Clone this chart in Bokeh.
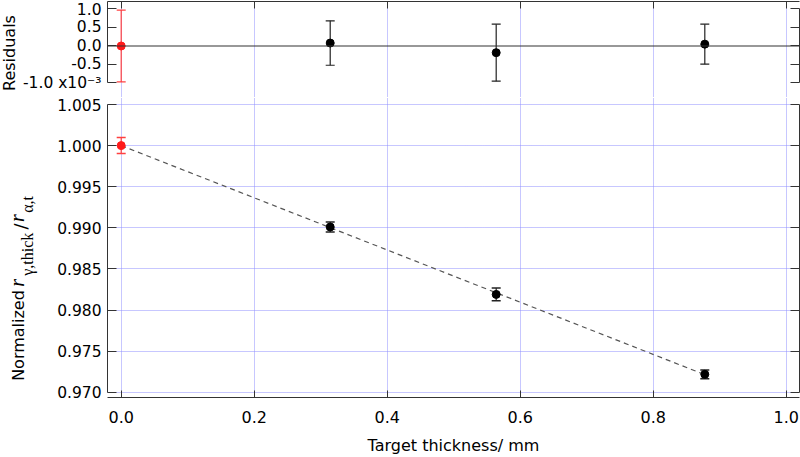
import math
from bokeh.plotting import figure
from bokeh.models import (Range1d, LinearAxis, FixedTicker, NumeralTickFormatter,
                          Whisker, TeeHead, ColumnDataSource, Span, Label)
from bokeh.layouts import column, row
from bokeh.embed import file_html
from bokeh.resources import INLINE

# ---------------- data ----------------
thickness = [0.0, 0.3143, 0.5639, 0.8776]          # mm
norm_ratio = [1.0000, 0.99010, 0.98190, 0.97218]    # normalized r_gamma,thick / r_alpha,t
errors_e3 = [0.97, 0.60, 0.77, 0.54]                # uncertainties (x1e-3)
residuals_e3 = [0.0, 0.08, -0.18, 0.05]             # residuals (x1e-3)
fit_x = [0.0, 0.8776]
fit_y = [1.0000, 0.97214]
x_ticks = [0.0, 0.2, 0.4, 0.6, 0.8, 1.0]
res_ticks = [-1.0, -0.5, 0.0, 0.5, 1.0]
norm_ticks = [0.970, 0.975, 0.980, 0.985, 0.990, 0.995, 1.000, 1.005]
point_colors = ["#ff1a1a", "black", "black", "black"]
bar_colors = ["#ff4040", "#222222", "#222222", "#222222"]

# ---------------- layout constants ----------------
TOP_ROW_H, BOT_ROW_H = 97, 360
TOP_BT = 1            # top border of the residual row
BOT_BB = 60           # bottom border of the main row
RES_LBL_W, Y_LBL_W = 18, 46
FRAME_LEFT = 107
X_LO, X_HI = -0.0206, 1.0200
RES_LO, RES_HI = -1.392, 1.2027
N_LO, N_HI = 0.96936, 1.00585

FONT = "DejaVu Sans"
SERIF = "Liberation Serif"
AX_COL = "#333333"
GRID_COL = "#8f8fff"


def style_axis(ax, tick_in, ticks, show_labels=True, fs="15.5px"):
    ax.axis_line_color = AX_COL
    ax.axis_line_width = 1
    ax.major_tick_line_color = AX_COL
    ax.major_tick_in = tick_in
    ax.major_tick_out = 0
    ax.minor_tick_line_color = None
    ax.major_label_text_font = FONT
    ax.major_label_text_color = "black"
    if show_labels:
        ax.major_label_text_font_size = fs
    else:
        # mirrored axis: ticks only, no labels
        ax.major_label_overrides = {t: "" for t in ticks}
        ax.major_label_text_font_size = "1px"
        ax.major_label_standoff = 0


def label_fig(w, h, b_top, b_bottom):
    fh = h - b_top - b_bottom
    f = figure(width=w, height=h, x_range=Range1d(0, w), y_range=Range1d(0, fh),
               x_axis_type=None, y_axis_type=None,
               min_border_left=0, min_border_right=0,
               min_border_top=b_top, min_border_bottom=b_bottom,
               toolbar_location=None, output_backend="svg")
    f.outline_line_color = None
    f.background_fill_color = "white"
    f.border_fill_color = "white"
    return f


def vlabel(f, frame_bottom, txt, cx, cy, fnt, size, style="normal"):
    # rotated text centred at page pixel (cx, cy); frame_bottom = page y of the figure's frame bottom
    f.add_layout(Label(x=cx, y=frame_bottom - cy, text=txt, angle=math.pi / 2,
                       text_align="center", text_baseline="middle",
                       text_font=fnt, text_font_style=style, text_font_size=size,
                       text_color="black"))


xr = Range1d(X_LO, X_HI)

# ---------------- residual panel ----------------
top = figure(width=800 - RES_LBL_W, height=TOP_ROW_H, x_range=xr, y_range=Range1d(RES_LO, RES_HI),
             x_axis_location="above", output_backend="svg", toolbar_location=None,
             min_border_left=FRAME_LEFT - RES_LBL_W, min_border_right=1, min_border_top=TOP_BT,
             min_border_bottom=0)
top.outline_line_color = None
top.background_fill_color = "white"
top.border_fill_color = "white"

top.xaxis.ticker = FixedTicker(ticks=x_ticks)
style_axis(top.xaxis[0], 7, x_ticks, show_labels=False)
top.yaxis.ticker = FixedTicker(ticks=res_ticks)
top.yaxis.formatter = NumeralTickFormatter(format="0.0")
top.yaxis.major_label_overrides = {-1: "-1.0 x10\u207b\u00b3"}
top.yaxis.bounds = (-1.0, RES_HI)
style_axis(top.yaxis[0], 9, res_ticks)
top.yaxis.major_label_standoff = 6
rax = LinearAxis(ticker=FixedTicker(ticks=res_ticks), bounds=(-1.0, 1.0))
style_axis(rax, 9, res_ticks, show_labels=False)
top.add_layout(rax, "right")

top.ygrid.visible = False
top.xgrid.grid_line_color = GRID_COL
top.xgrid.grid_line_dash = "1 1"
top.xgrid.grid_line_width = 1

top.add_layout(Span(location=0, dimension="width", line_color=AX_COL, line_width=1.2))

res_src = ColumnDataSource(dict(x=thickness, y=residuals_e3, pc=point_colors))
for i in range(len(thickness)):
    src = ColumnDataSource(dict(x=[thickness[i]],
                                lo=[residuals_e3[i] - errors_e3[i]],
                                up=[residuals_e3[i] + errors_e3[i]]))
    top.add_layout(Whisker(source=src, base="x", lower="lo", upper="up",
                           line_color=bar_colors[i], line_width=1.2,
                           lower_head=TeeHead(size=9, line_color=bar_colors[i], line_width=1.2),
                           upper_head=TeeHead(size=9, line_color=bar_colors[i], line_width=1.2)))
top.scatter("x", "y", source=res_src, size=8, color="pc", line_color="pc")

res_lbl = label_fig(RES_LBL_W, TOP_ROW_H, TOP_BT, 0)
vlabel(res_lbl, TOP_ROW_H, "Residuals", 9.0, 52.5, FONT, "16px")

# ---------------- main panel ----------------
bot = figure(width=800 - Y_LBL_W, height=BOT_ROW_H, x_range=xr, y_range=Range1d(N_LO, N_HI),
             output_backend="svg", toolbar_location=None,
             min_border_left=FRAME_LEFT - Y_LBL_W, min_border_right=1, min_border_top=0,
             min_border_bottom=BOT_BB)
bot.outline_line_color = None
bot.background_fill_color = "white"
bot.border_fill_color = "white"

bot.xaxis.ticker = FixedTicker(ticks=x_ticks)
bot.xaxis.formatter = NumeralTickFormatter(format="0.0")
style_axis(bot.xaxis[0], 7, x_ticks, fs="16px")
bot.xaxis.major_label_standoff = 13
bot.xaxis.axis_label = "Target thickness/ mm"
bot.xaxis.axis_label_text_font = FONT
bot.xaxis.axis_label_text_font_size = "16px"
bot.xaxis.axis_label_text_font_style = "normal"
bot.xaxis.axis_label_text_color = "black"
bot.xaxis.axis_label_standoff = 10

bot.yaxis.ticker = FixedTicker(ticks=norm_ticks)
bot.yaxis.formatter = NumeralTickFormatter(format="0.000")
bot.yaxis.bounds = (0.970, 1.005)
style_axis(bot.yaxis[0], 9, norm_ticks)
bot.yaxis.major_label_standoff = 6
rax2 = LinearAxis(ticker=FixedTicker(ticks=norm_ticks), bounds=(0.970, 1.005))
style_axis(rax2, 9, norm_ticks, show_labels=False)
bot.add_layout(rax2, "right")

for g in (bot.xgrid, bot.ygrid):
    g.grid_line_color = GRID_COL
    g.grid_line_dash = "1 1"
    g.grid_line_width = 1

bot.line(fit_x, fit_y, line_color="#555555", line_width=1.2, line_dash="5 4")

for i in range(len(thickness)):
    e = errors_e3[i] / 1000.0
    src = ColumnDataSource(dict(x=[thickness[i]], lo=[norm_ratio[i] - e], up=[norm_ratio[i] + e]))
    bot.add_layout(Whisker(source=src, base="x", lower="lo", upper="up",
                           line_color=bar_colors[i], line_width=1.2,
                           lower_head=TeeHead(size=9, line_color=bar_colors[i], line_width=1.5),
                           upper_head=TeeHead(size=9, line_color=bar_colors[i], line_width=1.5)))
main_src = ColumnDataSource(dict(x=thickness, y=norm_ratio, pc=point_colors))
bot.scatter("x", "y", source=main_src, size=8, color="pc", line_color="pc")

# rotated y-axis label built from pieces: Normalized r_{γ,thick}/r_{α,t}
ylbl = label_fig(Y_LBL_W, BOT_ROW_H, 0, BOT_BB)
fb = TOP_ROW_H + BOT_ROW_H - BOT_BB   # page y of the main frame bottom
vlabel(ylbl, fb, "Normalized", 17.8, 335.0, FONT, "16px")
vlabel(ylbl, fb, "r", 16.5, 282.4, SERIF, "20px", "italic")
vlabel(ylbl, fb, "γ,thick", 26.9, 253.7, SERIF, "16px")
vlabel(ylbl, fb, "/", 19.8, 226.0, FONT, "18px")
vlabel(ylbl, fb, "r", 16.5, 217.5, SERIF, "20px", "italic")
vlabel(ylbl, fb, "α,t", 26.9, 203.9, SERIF, "16px")

layout = column(row(res_lbl, top), row(ylbl, bot))
open("out.html", "w").write(file_html(layout, INLINE))
